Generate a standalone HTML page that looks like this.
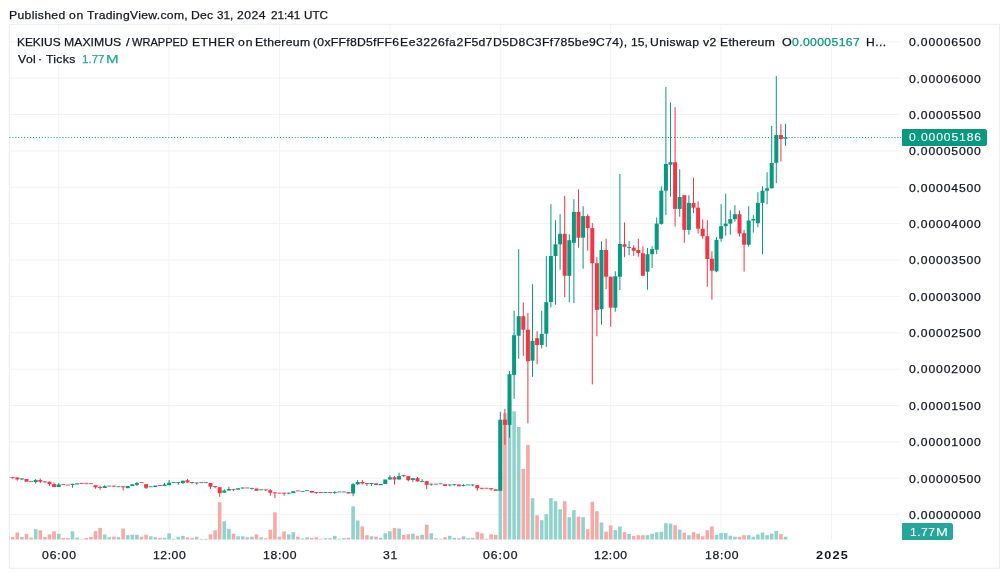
<!DOCTYPE html>
<html><head><meta charset="utf-8"><title>chart</title>
<style>
html,body{margin:0;padding:0;background:#fff;}
body{width:1003px;height:574px;position:relative;overflow:hidden;font-family:"Liberation Sans",sans-serif;color:#131722;}
#txt{position:absolute;left:0;top:0;width:1003px;height:574px;will-change:transform;}
.w{position:absolute;white-space:nowrap;font-size:11.6px;line-height:16px;height:16px;transform-origin:0 0;-webkit-text-stroke:0.25px currentColor;}
.box{position:absolute;border-radius:1px 2.5px 2.5px 1px;}
</style></head><body>
<svg width="1003" height="574" viewBox="0 0 1003 574" style="position:absolute;left:0;top:0" shape-rendering="auto">
<defs><clipPath id="cp"><rect x="9.5" y="24.5" width="891" height="515.2"/></clipPath></defs>
<rect x="10" y="41.30" width="890.5" height="1" fill="#f3f3f4"/>
<rect x="10" y="77.67" width="890.5" height="1" fill="#f3f3f4"/>
<rect x="10" y="114.04" width="890.5" height="1" fill="#f3f3f4"/>
<rect x="10" y="150.41" width="890.5" height="1" fill="#f3f3f4"/>
<rect x="10" y="186.78" width="890.5" height="1" fill="#f3f3f4"/>
<rect x="10" y="223.15" width="890.5" height="1" fill="#f3f3f4"/>
<rect x="10" y="259.52" width="890.5" height="1" fill="#f3f3f4"/>
<rect x="10" y="295.89" width="890.5" height="1" fill="#f3f3f4"/>
<rect x="10" y="332.26" width="890.5" height="1" fill="#f3f3f4"/>
<rect x="10" y="368.63" width="890.5" height="1" fill="#f3f3f4"/>
<rect x="10" y="405.00" width="890.5" height="1" fill="#f3f3f4"/>
<rect x="10" y="441.37" width="890.5" height="1" fill="#f3f3f4"/>
<rect x="10" y="477.74" width="890.5" height="1" fill="#f3f3f4"/>
<rect x="10" y="514.11" width="890.5" height="1" fill="#f3f3f4"/>
<rect x="58.20" y="25" width="1" height="514.70" fill="#f3f3f4"/>
<rect x="168.60" y="25" width="1" height="514.70" fill="#f3f3f4"/>
<rect x="279.00" y="25" width="1" height="514.70" fill="#f3f3f4"/>
<rect x="389.40" y="25" width="1" height="514.70" fill="#f3f3f4"/>
<rect x="499.80" y="25" width="1" height="514.70" fill="#f3f3f4"/>
<rect x="610.20" y="25" width="1" height="514.70" fill="#f3f3f4"/>
<rect x="720.60" y="25" width="1" height="514.70" fill="#f3f3f4"/>
<rect x="831.00" y="25" width="1" height="514.70" fill="#f3f3f4"/>
<rect x="9.4" y="24.3" width="990.2" height="544" fill="none" stroke="#ebedf3" stroke-width="1"/>
<g clip-path="url(#cp)">
<rect x="6.30" y="535.90" width="3.6" height="3.80" fill="#92d2cc"/>
<rect x="10.90" y="536.90" width="3.6" height="2.80" fill="#f7a9a7"/>
<rect x="15.50" y="532.50" width="3.6" height="7.20" fill="#f7a9a7"/>
<rect x="20.10" y="536.90" width="3.6" height="2.80" fill="#92d2cc"/>
<rect x="24.70" y="533.80" width="3.6" height="5.90" fill="#f7a9a7"/>
<rect x="29.30" y="537.60" width="3.6" height="2.10" fill="#f7a9a7"/>
<rect x="33.90" y="529.20" width="3.6" height="10.50" fill="#92d2cc"/>
<rect x="38.50" y="530.40" width="3.6" height="9.30" fill="#f7a9a7"/>
<rect x="43.10" y="536.90" width="3.6" height="2.80" fill="#f7a9a7"/>
<rect x="47.70" y="534.50" width="3.6" height="5.20" fill="#f7a9a7"/>
<rect x="52.30" y="531.30" width="3.6" height="8.40" fill="#f7a9a7"/>
<rect x="56.90" y="533.80" width="3.6" height="5.90" fill="#92d2cc"/>
<rect x="61.50" y="538.00" width="3.6" height="1.70" fill="#f7a9a7"/>
<rect x="66.10" y="538.00" width="3.6" height="1.70" fill="#f7a9a7"/>
<rect x="70.70" y="531.30" width="3.6" height="8.40" fill="#92d2cc"/>
<rect x="75.30" y="537.60" width="3.6" height="2.10" fill="#92d2cc"/>
<rect x="79.90" y="539.00" width="3.6" height="0.70" fill="#f7a9a7"/>
<rect x="84.50" y="538.00" width="3.6" height="1.70" fill="#f7a9a7"/>
<rect x="89.10" y="536.90" width="3.6" height="2.80" fill="#f7a9a7"/>
<rect x="93.70" y="531.10" width="3.6" height="8.60" fill="#f7a9a7"/>
<rect x="98.30" y="527.90" width="3.6" height="11.80" fill="#f7a9a7"/>
<rect x="102.90" y="534.50" width="3.6" height="5.20" fill="#92d2cc"/>
<rect x="107.50" y="537.20" width="3.6" height="2.50" fill="#92d2cc"/>
<rect x="112.10" y="536.60" width="3.6" height="3.10" fill="#f7a9a7"/>
<rect x="116.70" y="537.20" width="3.6" height="2.50" fill="#92d2cc"/>
<rect x="121.30" y="528.50" width="3.6" height="11.20" fill="#f7a9a7"/>
<rect x="125.90" y="535.20" width="3.6" height="4.50" fill="#92d2cc"/>
<rect x="130.50" y="534.80" width="3.6" height="4.90" fill="#92d2cc"/>
<rect x="135.10" y="534.80" width="3.6" height="4.90" fill="#92d2cc"/>
<rect x="139.70" y="536.70" width="3.6" height="3.00" fill="#f7a9a7"/>
<rect x="144.30" y="534.80" width="3.6" height="4.90" fill="#f7a9a7"/>
<rect x="148.90" y="536.30" width="3.6" height="3.40" fill="#92d2cc"/>
<rect x="153.50" y="537.30" width="3.6" height="2.40" fill="#92d2cc"/>
<rect x="158.10" y="537.80" width="3.6" height="1.90" fill="#f7a9a7"/>
<rect x="162.70" y="537.80" width="3.6" height="1.90" fill="#92d2cc"/>
<rect x="167.30" y="533.30" width="3.6" height="6.40" fill="#92d2cc"/>
<rect x="171.90" y="538.80" width="3.6" height="0.90" fill="#92d2cc"/>
<rect x="176.50" y="536.70" width="3.6" height="3.00" fill="#92d2cc"/>
<rect x="181.10" y="535.80" width="3.6" height="3.90" fill="#92d2cc"/>
<rect x="185.70" y="537.30" width="3.6" height="2.40" fill="#f7a9a7"/>
<rect x="190.30" y="537.80" width="3.6" height="1.90" fill="#f7a9a7"/>
<rect x="194.90" y="536.70" width="3.6" height="3.00" fill="#92d2cc"/>
<rect x="199.50" y="538.80" width="3.6" height="0.90" fill="#f7a9a7"/>
<rect x="204.10" y="538.80" width="3.6" height="0.90" fill="#92d2cc"/>
<rect x="208.70" y="534.30" width="3.6" height="5.40" fill="#f7a9a7"/>
<rect x="213.30" y="530.30" width="3.6" height="9.40" fill="#f7a9a7"/>
<rect x="217.90" y="502.20" width="3.6" height="37.50" fill="#f7a9a7"/>
<rect x="222.50" y="521.30" width="3.6" height="18.40" fill="#92d2cc"/>
<rect x="227.10" y="528.80" width="3.6" height="10.90" fill="#92d2cc"/>
<rect x="231.70" y="533.70" width="3.6" height="6.00" fill="#f7a9a7"/>
<rect x="236.30" y="536.30" width="3.6" height="3.40" fill="#92d2cc"/>
<rect x="240.90" y="536.30" width="3.6" height="3.40" fill="#92d2cc"/>
<rect x="245.50" y="537.30" width="3.6" height="2.40" fill="#f7a9a7"/>
<rect x="250.10" y="536.70" width="3.6" height="3.00" fill="#92d2cc"/>
<rect x="254.70" y="534.30" width="3.6" height="5.40" fill="#f7a9a7"/>
<rect x="259.30" y="537.30" width="3.6" height="2.40" fill="#92d2cc"/>
<rect x="263.90" y="538.20" width="3.6" height="1.50" fill="#f7a9a7"/>
<rect x="268.50" y="529.70" width="3.6" height="10.00" fill="#f7a9a7"/>
<rect x="273.10" y="512.30" width="3.6" height="27.40" fill="#f7a9a7"/>
<rect x="277.70" y="536.70" width="3.6" height="3.00" fill="#f7a9a7"/>
<rect x="282.30" y="531.50" width="3.6" height="8.20" fill="#f7a9a7"/>
<rect x="286.90" y="534.30" width="3.6" height="5.40" fill="#92d2cc"/>
<rect x="291.50" y="532.20" width="3.6" height="7.50" fill="#92d2cc"/>
<rect x="296.10" y="536.70" width="3.6" height="3.00" fill="#f7a9a7"/>
<rect x="300.70" y="538.50" width="3.6" height="1.20" fill="#92d2cc"/>
<rect x="305.30" y="537.30" width="3.6" height="2.40" fill="#92d2cc"/>
<rect x="309.90" y="537.90" width="3.6" height="1.80" fill="#f7a9a7"/>
<rect x="314.50" y="537.30" width="3.6" height="2.40" fill="#f7a9a7"/>
<rect x="319.10" y="538.70" width="3.6" height="1.00" fill="#f7a9a7"/>
<rect x="323.70" y="538.20" width="3.6" height="1.50" fill="#92d2cc"/>
<rect x="328.30" y="538.20" width="3.6" height="1.50" fill="#f7a9a7"/>
<rect x="332.90" y="535.80" width="3.6" height="3.90" fill="#92d2cc"/>
<rect x="337.50" y="538.70" width="3.6" height="1.00" fill="#92d2cc"/>
<rect x="342.10" y="538.20" width="3.6" height="1.50" fill="#92d2cc"/>
<rect x="346.70" y="537.80" width="3.6" height="1.90" fill="#f7a9a7"/>
<rect x="351.30" y="506.30" width="3.6" height="33.40" fill="#92d2cc"/>
<rect x="355.90" y="520.50" width="3.6" height="19.20" fill="#92d2cc"/>
<rect x="360.50" y="526.50" width="3.6" height="13.20" fill="#f7a9a7"/>
<rect x="365.10" y="535.20" width="3.6" height="4.50" fill="#f7a9a7"/>
<rect x="369.70" y="536.30" width="3.6" height="3.40" fill="#92d2cc"/>
<rect x="374.30" y="536.70" width="3.6" height="3.00" fill="#f7a9a7"/>
<rect x="378.90" y="537.80" width="3.6" height="1.90" fill="#92d2cc"/>
<rect x="383.50" y="533.30" width="3.6" height="6.40" fill="#92d2cc"/>
<rect x="388.10" y="531.30" width="3.6" height="8.40" fill="#92d2cc"/>
<rect x="392.70" y="528.00" width="3.6" height="11.70" fill="#f7a9a7"/>
<rect x="397.30" y="528.50" width="3.6" height="11.20" fill="#92d2cc"/>
<rect x="401.90" y="534.80" width="3.6" height="4.90" fill="#f7a9a7"/>
<rect x="406.50" y="534.30" width="3.6" height="5.40" fill="#f7a9a7"/>
<rect x="411.10" y="533.70" width="3.6" height="6.00" fill="#92d2cc"/>
<rect x="415.70" y="535.80" width="3.6" height="3.90" fill="#f7a9a7"/>
<rect x="420.30" y="534.80" width="3.6" height="4.90" fill="#92d2cc"/>
<rect x="424.90" y="524.70" width="3.6" height="15.00" fill="#f7a9a7"/>
<rect x="429.50" y="533.30" width="3.6" height="6.40" fill="#92d2cc"/>
<rect x="434.10" y="538.20" width="3.6" height="1.50" fill="#f7a9a7"/>
<rect x="438.70" y="538.80" width="3.6" height="0.90" fill="#92d2cc"/>
<rect x="443.30" y="537.30" width="3.6" height="2.40" fill="#f7a9a7"/>
<rect x="447.90" y="535.80" width="3.6" height="3.90" fill="#92d2cc"/>
<rect x="452.50" y="537.80" width="3.6" height="1.90" fill="#92d2cc"/>
<rect x="457.10" y="538.20" width="3.6" height="1.50" fill="#f7a9a7"/>
<rect x="461.70" y="536.30" width="3.6" height="3.40" fill="#92d2cc"/>
<rect x="466.30" y="538.20" width="3.6" height="1.50" fill="#92d2cc"/>
<rect x="470.90" y="537.80" width="3.6" height="1.90" fill="#92d2cc"/>
<rect x="475.50" y="531.80" width="3.6" height="7.90" fill="#f7a9a7"/>
<rect x="480.10" y="533.30" width="3.6" height="6.40" fill="#f7a9a7"/>
<rect x="484.70" y="538.80" width="3.6" height="0.90" fill="#f7a9a7"/>
<rect x="489.30" y="534.30" width="3.6" height="5.40" fill="#f7a9a7"/>
<rect x="493.90" y="534.80" width="3.6" height="4.90" fill="#f7a9a7"/>
<rect x="498.50" y="421.70" width="3.6" height="118.00" fill="#92d2cc"/>
<rect x="503.10" y="413.30" width="3.6" height="126.40" fill="#f7a9a7"/>
<rect x="507.70" y="400.00" width="3.6" height="139.70" fill="#92d2cc"/>
<rect x="512.30" y="411.30" width="3.6" height="128.40" fill="#92d2cc"/>
<rect x="516.90" y="427.00" width="3.6" height="112.70" fill="#92d2cc"/>
<rect x="521.50" y="468.90" width="3.6" height="70.80" fill="#f7a9a7"/>
<rect x="526.10" y="445.00" width="3.6" height="94.70" fill="#f7a9a7"/>
<rect x="530.70" y="498.20" width="3.6" height="41.50" fill="#92d2cc"/>
<rect x="535.30" y="515.30" width="3.6" height="24.40" fill="#f7a9a7"/>
<rect x="539.90" y="520.20" width="3.6" height="19.50" fill="#92d2cc"/>
<rect x="544.50" y="514.20" width="3.6" height="25.50" fill="#92d2cc"/>
<rect x="549.10" y="498.20" width="3.6" height="41.50" fill="#92d2cc"/>
<rect x="553.70" y="501.20" width="3.6" height="38.50" fill="#92d2cc"/>
<rect x="558.30" y="509.30" width="3.6" height="30.40" fill="#92d2cc"/>
<rect x="562.90" y="501.20" width="3.6" height="38.50" fill="#f7a9a7"/>
<rect x="567.50" y="517.20" width="3.6" height="22.50" fill="#92d2cc"/>
<rect x="572.10" y="510.20" width="3.6" height="29.50" fill="#92d2cc"/>
<rect x="576.70" y="516.50" width="3.6" height="23.20" fill="#f7a9a7"/>
<rect x="581.30" y="517.20" width="3.6" height="22.50" fill="#92d2cc"/>
<rect x="585.90" y="529.20" width="3.6" height="10.50" fill="#f7a9a7"/>
<rect x="590.50" y="501.80" width="3.6" height="37.90" fill="#f7a9a7"/>
<rect x="595.10" y="511.20" width="3.6" height="28.50" fill="#f7a9a7"/>
<rect x="599.70" y="522.50" width="3.6" height="17.20" fill="#92d2cc"/>
<rect x="604.30" y="531.70" width="3.6" height="8.00" fill="#f7a9a7"/>
<rect x="608.90" y="525.40" width="3.6" height="14.30" fill="#f7a9a7"/>
<rect x="613.50" y="530.20" width="3.6" height="9.50" fill="#92d2cc"/>
<rect x="618.10" y="526.50" width="3.6" height="13.20" fill="#92d2cc"/>
<rect x="622.70" y="532.20" width="3.6" height="7.50" fill="#f7a9a7"/>
<rect x="627.30" y="534.00" width="3.6" height="5.70" fill="#92d2cc"/>
<rect x="631.90" y="535.90" width="3.6" height="3.80" fill="#f7a9a7"/>
<rect x="636.50" y="535.20" width="3.6" height="4.50" fill="#f7a9a7"/>
<rect x="641.10" y="535.20" width="3.6" height="4.50" fill="#f7a9a7"/>
<rect x="645.70" y="535.20" width="3.6" height="4.50" fill="#92d2cc"/>
<rect x="650.30" y="533.70" width="3.6" height="6.00" fill="#92d2cc"/>
<rect x="654.90" y="532.20" width="3.6" height="7.50" fill="#92d2cc"/>
<rect x="659.50" y="531.80" width="3.6" height="7.90" fill="#92d2cc"/>
<rect x="664.10" y="523.20" width="3.6" height="16.50" fill="#92d2cc"/>
<rect x="668.70" y="523.50" width="3.6" height="16.20" fill="#92d2cc"/>
<rect x="673.30" y="525.20" width="3.6" height="14.50" fill="#f7a9a7"/>
<rect x="677.90" y="529.70" width="3.6" height="10.00" fill="#92d2cc"/>
<rect x="682.50" y="532.70" width="3.6" height="7.00" fill="#f7a9a7"/>
<rect x="687.10" y="535.20" width="3.6" height="4.50" fill="#92d2cc"/>
<rect x="691.70" y="532.20" width="3.6" height="7.50" fill="#f7a9a7"/>
<rect x="696.30" y="533.70" width="3.6" height="6.00" fill="#f7a9a7"/>
<rect x="700.90" y="536.30" width="3.6" height="3.40" fill="#f7a9a7"/>
<rect x="705.50" y="530.30" width="3.6" height="9.40" fill="#f7a9a7"/>
<rect x="710.10" y="526.50" width="3.6" height="13.20" fill="#f7a9a7"/>
<rect x="714.70" y="534.80" width="3.6" height="4.90" fill="#92d2cc"/>
<rect x="719.30" y="533.00" width="3.6" height="6.70" fill="#92d2cc"/>
<rect x="723.90" y="533.00" width="3.6" height="6.70" fill="#92d2cc"/>
<rect x="728.50" y="535.70" width="3.6" height="4.00" fill="#92d2cc"/>
<rect x="733.10" y="536.70" width="3.6" height="3.00" fill="#92d2cc"/>
<rect x="737.70" y="536.70" width="3.6" height="3.00" fill="#f7a9a7"/>
<rect x="742.30" y="535.20" width="3.6" height="4.50" fill="#f7a9a7"/>
<rect x="746.90" y="535.20" width="3.6" height="4.50" fill="#92d2cc"/>
<rect x="751.50" y="536.70" width="3.6" height="3.00" fill="#92d2cc"/>
<rect x="756.10" y="534.50" width="3.6" height="5.20" fill="#92d2cc"/>
<rect x="760.70" y="532.50" width="3.6" height="7.20" fill="#92d2cc"/>
<rect x="765.30" y="535.20" width="3.6" height="4.50" fill="#92d2cc"/>
<rect x="769.90" y="533.70" width="3.6" height="6.00" fill="#92d2cc"/>
<rect x="774.50" y="531.00" width="3.6" height="8.70" fill="#92d2cc"/>
<rect x="779.10" y="534.20" width="3.6" height="5.50" fill="#f7a9a7"/>
<rect x="783.70" y="536.70" width="3.6" height="3.00" fill="#92d2cc"/>
<rect x="6.10" y="477.20" width="4.0" height="0.90" fill="#089981"/>
<rect x="12.20" y="476.70" width="1" height="2.00" fill="#f23645"/>
<rect x="10.70" y="477.20" width="4.0" height="0.90" fill="#f23645"/>
<rect x="16.80" y="477.50" width="1" height="3.20" fill="#f23645"/>
<rect x="15.30" y="477.50" width="4.0" height="1.90" fill="#f23645"/>
<rect x="21.40" y="478.40" width="1" height="1.60" fill="#089981"/>
<rect x="19.90" y="478.40" width="4.0" height="1.00" fill="#089981"/>
<rect x="24.50" y="479.00" width="4.0" height="2.70" fill="#f23645"/>
<rect x="29.10" y="481.20" width="4.0" height="0.90" fill="#f23645"/>
<rect x="35.20" y="479.00" width="1" height="4.50" fill="#089981"/>
<rect x="33.70" y="480.00" width="4.0" height="2.00" fill="#089981"/>
<rect x="39.80" y="478.50" width="1" height="4.60" fill="#f23645"/>
<rect x="38.30" y="480.00" width="4.0" height="1.70" fill="#f23645"/>
<rect x="44.40" y="481.40" width="1" height="1.30" fill="#f23645"/>
<rect x="42.90" y="481.40" width="4.0" height="0.90" fill="#f23645"/>
<rect x="49.00" y="481.70" width="1" height="4.20" fill="#f23645"/>
<rect x="47.50" y="481.70" width="4.0" height="2.40" fill="#f23645"/>
<rect x="53.60" y="482.40" width="1" height="4.60" fill="#f23645"/>
<rect x="52.10" y="484.10" width="4.0" height="2.90" fill="#f23645"/>
<rect x="58.20" y="483.10" width="1" height="3.90" fill="#089981"/>
<rect x="56.70" y="484.50" width="4.0" height="2.50" fill="#089981"/>
<rect x="61.30" y="484.20" width="4.0" height="0.90" fill="#f23645"/>
<rect x="65.90" y="484.60" width="4.0" height="0.90" fill="#f23645"/>
<rect x="72.00" y="483.80" width="1" height="3.90" fill="#089981"/>
<rect x="70.50" y="483.80" width="4.0" height="1.20" fill="#089981"/>
<rect x="75.10" y="483.30" width="4.0" height="1.20" fill="#089981"/>
<rect x="79.70" y="483.00" width="4.0" height="0.90" fill="#f23645"/>
<rect x="84.30" y="483.20" width="4.0" height="0.90" fill="#f23645"/>
<rect x="88.90" y="483.20" width="4.0" height="0.90" fill="#f23645"/>
<rect x="95.00" y="485.20" width="1" height="3.50" fill="#f23645"/>
<rect x="93.50" y="485.20" width="4.0" height="2.10" fill="#f23645"/>
<rect x="99.60" y="485.60" width="1" height="4.20" fill="#f23645"/>
<rect x="98.10" y="487.00" width="4.0" height="0.90" fill="#f23645"/>
<rect x="104.20" y="485.20" width="1" height="2.80" fill="#089981"/>
<rect x="102.70" y="486.20" width="4.0" height="1.80" fill="#089981"/>
<rect x="107.30" y="485.60" width="4.0" height="0.90" fill="#089981"/>
<rect x="113.40" y="485.70" width="1" height="1.30" fill="#f23645"/>
<rect x="111.90" y="485.70" width="4.0" height="0.90" fill="#f23645"/>
<rect x="116.50" y="486.30" width="4.0" height="0.90" fill="#089981"/>
<rect x="122.60" y="486.30" width="1" height="4.20" fill="#f23645"/>
<rect x="121.10" y="486.30" width="4.0" height="1.00" fill="#f23645"/>
<rect x="125.70" y="486.00" width="4.0" height="2.20" fill="#089981"/>
<rect x="130.30" y="484.20" width="4.0" height="1.80" fill="#089981"/>
<rect x="136.40" y="482.00" width="1" height="4.00" fill="#089981"/>
<rect x="134.90" y="483.00" width="4.0" height="1.80" fill="#089981"/>
<rect x="139.50" y="482.20" width="4.0" height="0.90" fill="#f23645"/>
<rect x="145.60" y="484.20" width="1" height="4.80" fill="#f23645"/>
<rect x="144.10" y="484.20" width="4.0" height="3.60" fill="#f23645"/>
<rect x="148.70" y="486.30" width="4.0" height="0.90" fill="#089981"/>
<rect x="153.30" y="485.50" width="4.0" height="1.50" fill="#089981"/>
<rect x="157.90" y="485.10" width="4.0" height="0.90" fill="#f23645"/>
<rect x="164.00" y="483.00" width="1" height="3.00" fill="#089981"/>
<rect x="162.50" y="484.50" width="4.0" height="1.50" fill="#089981"/>
<rect x="168.60" y="480.00" width="1" height="5.20" fill="#089981"/>
<rect x="167.10" y="482.70" width="4.0" height="2.50" fill="#089981"/>
<rect x="171.70" y="482.00" width="4.0" height="0.90" fill="#089981"/>
<rect x="177.80" y="482.00" width="1" height="2.80" fill="#089981"/>
<rect x="176.30" y="482.00" width="4.0" height="0.90" fill="#089981"/>
<rect x="182.40" y="480.70" width="1" height="3.30" fill="#089981"/>
<rect x="180.90" y="480.70" width="4.0" height="2.30" fill="#089981"/>
<rect x="187.00" y="478.90" width="1" height="3.60" fill="#f23645"/>
<rect x="185.50" y="480.30" width="4.0" height="2.20" fill="#f23645"/>
<rect x="191.60" y="482.00" width="1" height="1.70" fill="#f23645"/>
<rect x="190.10" y="482.00" width="4.0" height="0.90" fill="#f23645"/>
<rect x="196.20" y="482.50" width="1" height="2.00" fill="#089981"/>
<rect x="194.70" y="482.50" width="4.0" height="0.90" fill="#089981"/>
<rect x="199.30" y="482.20" width="4.0" height="0.90" fill="#f23645"/>
<rect x="203.90" y="482.20" width="4.0" height="0.90" fill="#089981"/>
<rect x="210.00" y="483.00" width="1" height="6.00" fill="#f23645"/>
<rect x="208.50" y="483.00" width="4.0" height="3.70" fill="#f23645"/>
<rect x="214.60" y="486.00" width="1" height="2.20" fill="#f23645"/>
<rect x="213.10" y="486.00" width="4.0" height="0.90" fill="#f23645"/>
<rect x="219.20" y="487.20" width="1" height="9.60" fill="#f23645"/>
<rect x="217.70" y="487.20" width="4.0" height="6.00" fill="#f23645"/>
<rect x="223.80" y="489.40" width="1" height="3.30" fill="#089981"/>
<rect x="222.30" y="490.50" width="4.0" height="2.20" fill="#089981"/>
<rect x="228.40" y="486.70" width="1" height="3.80" fill="#089981"/>
<rect x="226.90" y="489.00" width="4.0" height="1.50" fill="#089981"/>
<rect x="233.00" y="489.20" width="1" height="1.70" fill="#f23645"/>
<rect x="231.50" y="489.20" width="4.0" height="0.90" fill="#f23645"/>
<rect x="236.10" y="488.20" width="4.0" height="1.50" fill="#089981"/>
<rect x="242.20" y="487.50" width="1" height="1.50" fill="#089981"/>
<rect x="240.70" y="487.50" width="4.0" height="0.90" fill="#089981"/>
<rect x="245.30" y="487.50" width="4.0" height="0.90" fill="#f23645"/>
<rect x="251.40" y="487.90" width="1" height="1.80" fill="#089981"/>
<rect x="249.90" y="487.90" width="4.0" height="0.90" fill="#089981"/>
<rect x="254.50" y="488.50" width="4.0" height="2.30" fill="#f23645"/>
<rect x="259.10" y="489.40" width="4.0" height="0.90" fill="#089981"/>
<rect x="265.20" y="489.40" width="1" height="1.50" fill="#f23645"/>
<rect x="263.70" y="489.40" width="4.0" height="0.90" fill="#f23645"/>
<rect x="269.80" y="489.00" width="1" height="6.70" fill="#f23645"/>
<rect x="268.30" y="490.20" width="4.0" height="2.50" fill="#f23645"/>
<rect x="274.40" y="492.40" width="1" height="5.60" fill="#f23645"/>
<rect x="272.90" y="492.40" width="4.0" height="0.90" fill="#f23645"/>
<rect x="277.50" y="492.70" width="4.0" height="0.90" fill="#f23645"/>
<rect x="283.60" y="492.70" width="1" height="3.00" fill="#f23645"/>
<rect x="282.10" y="492.70" width="4.0" height="0.90" fill="#f23645"/>
<rect x="288.20" y="492.70" width="1" height="1.50" fill="#089981"/>
<rect x="286.70" y="492.70" width="4.0" height="0.90" fill="#089981"/>
<rect x="291.30" y="491.20" width="4.0" height="2.00" fill="#089981"/>
<rect x="295.90" y="490.50" width="4.0" height="0.90" fill="#f23645"/>
<rect x="300.50" y="490.90" width="4.0" height="0.90" fill="#089981"/>
<rect x="305.10" y="490.20" width="4.0" height="0.90" fill="#089981"/>
<rect x="309.70" y="490.90" width="4.0" height="1.80" fill="#f23645"/>
<rect x="315.80" y="492.00" width="1" height="1.80" fill="#f23645"/>
<rect x="314.30" y="492.00" width="4.0" height="0.90" fill="#f23645"/>
<rect x="318.90" y="492.00" width="4.0" height="0.90" fill="#f23645"/>
<rect x="323.50" y="492.00" width="4.0" height="0.90" fill="#089981"/>
<rect x="328.10" y="492.00" width="4.0" height="0.90" fill="#f23645"/>
<rect x="334.20" y="491.20" width="1" height="2.70" fill="#089981"/>
<rect x="332.70" y="492.00" width="4.0" height="0.90" fill="#089981"/>
<rect x="337.30" y="491.50" width="4.0" height="0.90" fill="#089981"/>
<rect x="341.90" y="491.50" width="4.0" height="0.90" fill="#089981"/>
<rect x="346.50" y="492.00" width="4.0" height="1.50" fill="#f23645"/>
<rect x="352.60" y="483.00" width="1" height="13.20" fill="#089981"/>
<rect x="351.10" y="484.20" width="4.0" height="9.30" fill="#089981"/>
<rect x="357.20" y="480.00" width="1" height="5.20" fill="#089981"/>
<rect x="355.70" y="482.00" width="4.0" height="2.20" fill="#089981"/>
<rect x="361.80" y="480.00" width="1" height="4.50" fill="#f23645"/>
<rect x="360.30" y="482.00" width="4.0" height="1.40" fill="#f23645"/>
<rect x="366.40" y="483.00" width="1" height="3.00" fill="#f23645"/>
<rect x="364.90" y="483.00" width="4.0" height="1.00" fill="#f23645"/>
<rect x="371.00" y="483.00" width="1" height="3.00" fill="#089981"/>
<rect x="369.50" y="483.00" width="4.0" height="1.00" fill="#089981"/>
<rect x="374.10" y="483.40" width="4.0" height="1.60" fill="#f23645"/>
<rect x="378.70" y="484.00" width="4.0" height="1.20" fill="#089981"/>
<rect x="383.30" y="479.50" width="4.0" height="4.50" fill="#089981"/>
<rect x="389.40" y="475.20" width="1" height="4.30" fill="#089981"/>
<rect x="387.90" y="477.30" width="4.0" height="2.20" fill="#089981"/>
<rect x="394.00" y="476.20" width="1" height="8.30" fill="#f23645"/>
<rect x="392.50" y="477.30" width="4.0" height="2.20" fill="#f23645"/>
<rect x="398.60" y="472.80" width="1" height="6.70" fill="#089981"/>
<rect x="397.10" y="476.20" width="4.0" height="3.30" fill="#089981"/>
<rect x="403.20" y="475.20" width="1" height="1.80" fill="#f23645"/>
<rect x="401.70" y="475.20" width="4.0" height="1.00" fill="#f23645"/>
<rect x="407.80" y="476.20" width="1" height="5.20" fill="#f23645"/>
<rect x="406.30" y="476.20" width="4.0" height="4.00" fill="#f23645"/>
<rect x="412.40" y="478.20" width="1" height="3.60" fill="#089981"/>
<rect x="410.90" y="478.20" width="4.0" height="1.80" fill="#089981"/>
<rect x="417.00" y="477.00" width="1" height="4.50" fill="#f23645"/>
<rect x="415.50" y="478.20" width="4.0" height="3.30" fill="#f23645"/>
<rect x="421.60" y="479.20" width="1" height="2.80" fill="#089981"/>
<rect x="420.10" y="481.20" width="4.0" height="0.90" fill="#089981"/>
<rect x="426.20" y="481.20" width="1" height="7.80" fill="#f23645"/>
<rect x="424.70" y="481.20" width="4.0" height="3.60" fill="#f23645"/>
<rect x="430.80" y="483.70" width="1" height="2.00" fill="#089981"/>
<rect x="429.30" y="483.70" width="4.0" height="0.90" fill="#089981"/>
<rect x="433.90" y="483.70" width="4.0" height="0.90" fill="#f23645"/>
<rect x="438.50" y="483.40" width="4.0" height="0.90" fill="#089981"/>
<rect x="443.10" y="484.20" width="4.0" height="1.80" fill="#f23645"/>
<rect x="449.20" y="484.50" width="1" height="1.80" fill="#089981"/>
<rect x="447.70" y="484.50" width="4.0" height="0.90" fill="#089981"/>
<rect x="453.80" y="484.20" width="1" height="1.50" fill="#089981"/>
<rect x="452.30" y="484.20" width="4.0" height="0.90" fill="#089981"/>
<rect x="456.90" y="484.50" width="4.0" height="1.80" fill="#f23645"/>
<rect x="463.00" y="484.20" width="1" height="2.20" fill="#089981"/>
<rect x="461.50" y="485.00" width="4.0" height="0.90" fill="#089981"/>
<rect x="466.10" y="484.50" width="4.0" height="0.90" fill="#089981"/>
<rect x="472.20" y="484.50" width="1" height="1.80" fill="#089981"/>
<rect x="470.70" y="484.50" width="4.0" height="0.90" fill="#089981"/>
<rect x="476.80" y="485.20" width="1" height="5.60" fill="#f23645"/>
<rect x="475.30" y="485.20" width="4.0" height="3.00" fill="#f23645"/>
<rect x="481.40" y="487.80" width="1" height="1.60" fill="#f23645"/>
<rect x="479.90" y="487.80" width="4.0" height="0.90" fill="#f23645"/>
<rect x="484.50" y="487.80" width="4.0" height="0.90" fill="#f23645"/>
<rect x="490.60" y="488.20" width="1" height="2.30" fill="#f23645"/>
<rect x="489.10" y="488.20" width="4.0" height="1.10" fill="#f23645"/>
<rect x="493.70" y="489.30" width="4.0" height="1.60" fill="#f23645"/>
<rect x="499.80" y="411.90" width="1" height="78.90" fill="#089981"/>
<rect x="498.30" y="419.70" width="4.0" height="71.10" fill="#089981"/>
<rect x="504.40" y="409.00" width="1" height="35.80" fill="#f23645"/>
<rect x="502.90" y="419.70" width="4.0" height="5.20" fill="#f23645"/>
<rect x="509.00" y="370.90" width="1" height="66.80" fill="#089981"/>
<rect x="507.50" y="374.20" width="4.0" height="50.70" fill="#089981"/>
<rect x="513.60" y="310.70" width="1" height="88.10" fill="#089981"/>
<rect x="512.10" y="335.20" width="4.0" height="39.70" fill="#089981"/>
<rect x="518.20" y="249.20" width="1" height="109.60" fill="#089981"/>
<rect x="516.70" y="316.20" width="4.0" height="19.50" fill="#089981"/>
<rect x="522.80" y="302.40" width="1" height="53.40" fill="#f23645"/>
<rect x="521.30" y="316.20" width="4.0" height="13.50" fill="#f23645"/>
<rect x="527.40" y="312.90" width="1" height="110.50" fill="#f23645"/>
<rect x="525.90" y="329.70" width="4.0" height="31.50" fill="#f23645"/>
<rect x="532.00" y="284.20" width="1" height="92.70" fill="#089981"/>
<rect x="530.50" y="340.80" width="4.0" height="19.90" fill="#089981"/>
<rect x="536.60" y="331.20" width="1" height="33.00" fill="#f23645"/>
<rect x="535.10" y="338.20" width="4.0" height="6.80" fill="#f23645"/>
<rect x="541.20" y="310.70" width="1" height="37.70" fill="#089981"/>
<rect x="539.70" y="334.00" width="4.0" height="11.00" fill="#089981"/>
<rect x="545.80" y="256.00" width="1" height="90.90" fill="#089981"/>
<rect x="544.30" y="302.10" width="4.0" height="31.60" fill="#089981"/>
<rect x="550.40" y="204.10" width="1" height="103.30" fill="#089981"/>
<rect x="548.90" y="256.00" width="4.0" height="46.10" fill="#089981"/>
<rect x="555.00" y="220.20" width="1" height="84.50" fill="#089981"/>
<rect x="553.50" y="244.30" width="4.0" height="11.70" fill="#089981"/>
<rect x="559.60" y="214.20" width="1" height="55.60" fill="#089981"/>
<rect x="558.10" y="233.80" width="4.0" height="10.50" fill="#089981"/>
<rect x="564.20" y="195.80" width="1" height="101.40" fill="#f23645"/>
<rect x="562.70" y="233.80" width="4.0" height="42.00" fill="#f23645"/>
<rect x="568.80" y="234.20" width="1" height="68.20" fill="#089981"/>
<rect x="567.30" y="240.20" width="4.0" height="35.60" fill="#089981"/>
<rect x="573.40" y="199.20" width="1" height="104.00" fill="#089981"/>
<rect x="571.90" y="211.90" width="4.0" height="30.90" fill="#089981"/>
<rect x="578.00" y="189.50" width="1" height="58.20" fill="#f23645"/>
<rect x="576.50" y="211.90" width="4.0" height="25.80" fill="#f23645"/>
<rect x="582.60" y="206.20" width="1" height="62.50" fill="#089981"/>
<rect x="581.10" y="216.10" width="4.0" height="21.60" fill="#089981"/>
<rect x="587.20" y="214.20" width="1" height="36.50" fill="#f23645"/>
<rect x="585.70" y="216.10" width="4.0" height="12.00" fill="#f23645"/>
<rect x="591.80" y="223.20" width="1" height="161.20" fill="#f23645"/>
<rect x="590.30" y="228.10" width="4.0" height="35.10" fill="#f23645"/>
<rect x="596.40" y="257.20" width="1" height="79.10" fill="#f23645"/>
<rect x="594.90" y="263.20" width="4.0" height="46.70" fill="#f23645"/>
<rect x="601.00" y="241.30" width="1" height="83.40" fill="#089981"/>
<rect x="599.50" y="250.00" width="4.0" height="59.20" fill="#089981"/>
<rect x="605.60" y="238.70" width="1" height="50.30" fill="#f23645"/>
<rect x="604.10" y="250.00" width="4.0" height="26.70" fill="#f23645"/>
<rect x="610.20" y="276.70" width="1" height="50.00" fill="#f23645"/>
<rect x="608.70" y="276.70" width="4.0" height="31.00" fill="#f23645"/>
<rect x="614.80" y="271.30" width="1" height="40.40" fill="#089981"/>
<rect x="613.30" y="276.20" width="4.0" height="31.50" fill="#089981"/>
<rect x="619.40" y="174.00" width="1" height="116.00" fill="#089981"/>
<rect x="617.90" y="244.00" width="4.0" height="32.70" fill="#089981"/>
<rect x="624.00" y="222.40" width="1" height="34.80" fill="#f23645"/>
<rect x="622.50" y="244.30" width="4.0" height="2.40" fill="#f23645"/>
<rect x="628.60" y="241.00" width="1" height="14.20" fill="#089981"/>
<rect x="627.10" y="247.00" width="4.0" height="0.90" fill="#089981"/>
<rect x="633.20" y="245.20" width="1" height="10.50" fill="#f23645"/>
<rect x="631.70" y="247.70" width="4.0" height="3.00" fill="#f23645"/>
<rect x="637.80" y="238.70" width="1" height="18.00" fill="#f23645"/>
<rect x="636.30" y="250.00" width="4.0" height="3.00" fill="#f23645"/>
<rect x="642.40" y="246.20" width="1" height="29.60" fill="#f23645"/>
<rect x="640.90" y="253.30" width="4.0" height="22.50" fill="#f23645"/>
<rect x="647.00" y="248.00" width="1" height="41.70" fill="#089981"/>
<rect x="645.50" y="254.20" width="4.0" height="17.50" fill="#089981"/>
<rect x="651.60" y="246.20" width="1" height="21.80" fill="#089981"/>
<rect x="650.10" y="249.20" width="4.0" height="5.00" fill="#089981"/>
<rect x="656.20" y="217.60" width="1" height="36.60" fill="#089981"/>
<rect x="654.70" y="223.60" width="4.0" height="26.10" fill="#089981"/>
<rect x="660.80" y="186.20" width="1" height="38.50" fill="#089981"/>
<rect x="659.30" y="190.70" width="4.0" height="33.20" fill="#089981"/>
<rect x="665.40" y="87.00" width="1" height="128.20" fill="#089981"/>
<rect x="663.90" y="164.00" width="4.0" height="26.70" fill="#089981"/>
<rect x="670.00" y="102.40" width="1" height="94.30" fill="#089981"/>
<rect x="668.50" y="162.20" width="4.0" height="2.50" fill="#089981"/>
<rect x="674.60" y="107.20" width="1" height="119.30" fill="#f23645"/>
<rect x="673.10" y="162.20" width="4.0" height="46.70" fill="#f23645"/>
<rect x="679.20" y="169.20" width="1" height="47.50" fill="#089981"/>
<rect x="677.70" y="197.00" width="4.0" height="11.90" fill="#089981"/>
<rect x="683.80" y="195.20" width="1" height="47.60" fill="#f23645"/>
<rect x="682.30" y="195.20" width="4.0" height="34.70" fill="#f23645"/>
<rect x="688.40" y="195.20" width="1" height="39.50" fill="#089981"/>
<rect x="686.90" y="202.90" width="4.0" height="27.00" fill="#089981"/>
<rect x="693.00" y="177.90" width="1" height="35.20" fill="#f23645"/>
<rect x="691.50" y="202.90" width="4.0" height="4.80" fill="#f23645"/>
<rect x="697.60" y="201.40" width="1" height="32.10" fill="#f23645"/>
<rect x="696.10" y="207.70" width="4.0" height="21.00" fill="#f23645"/>
<rect x="702.20" y="219.40" width="1" height="19.30" fill="#f23645"/>
<rect x="700.70" y="228.70" width="4.0" height="7.50" fill="#f23645"/>
<rect x="706.80" y="220.20" width="1" height="66.50" fill="#f23645"/>
<rect x="705.30" y="236.20" width="4.0" height="22.80" fill="#f23645"/>
<rect x="711.40" y="251.20" width="1" height="48.50" fill="#f23645"/>
<rect x="709.90" y="258.70" width="4.0" height="12.00" fill="#f23645"/>
<rect x="716.00" y="237.20" width="1" height="35.00" fill="#089981"/>
<rect x="714.50" y="239.80" width="4.0" height="31.50" fill="#089981"/>
<rect x="720.60" y="204.10" width="1" height="37.60" fill="#089981"/>
<rect x="719.10" y="226.20" width="4.0" height="12.50" fill="#089981"/>
<rect x="725.20" y="193.70" width="1" height="42.00" fill="#089981"/>
<rect x="723.70" y="223.60" width="4.0" height="2.60" fill="#089981"/>
<rect x="729.80" y="210.40" width="1" height="24.30" fill="#089981"/>
<rect x="728.30" y="219.10" width="4.0" height="4.50" fill="#089981"/>
<rect x="734.40" y="205.20" width="1" height="16.50" fill="#089981"/>
<rect x="732.90" y="214.20" width="4.0" height="4.90" fill="#089981"/>
<rect x="739.00" y="210.40" width="1" height="26.10" fill="#f23645"/>
<rect x="737.50" y="214.20" width="4.0" height="19.30" fill="#f23645"/>
<rect x="743.60" y="229.90" width="1" height="41.80" fill="#f23645"/>
<rect x="742.10" y="233.20" width="4.0" height="11.50" fill="#f23645"/>
<rect x="748.20" y="206.20" width="1" height="40.50" fill="#089981"/>
<rect x="746.70" y="220.50" width="4.0" height="24.20" fill="#089981"/>
<rect x="752.80" y="215.20" width="1" height="17.50" fill="#089981"/>
<rect x="751.30" y="219.00" width="4.0" height="1.50" fill="#089981"/>
<rect x="757.40" y="192.20" width="1" height="35.00" fill="#089981"/>
<rect x="755.90" y="202.90" width="4.0" height="20.30" fill="#089981"/>
<rect x="762.00" y="186.20" width="1" height="68.00" fill="#089981"/>
<rect x="760.50" y="190.70" width="4.0" height="12.20" fill="#089981"/>
<rect x="766.60" y="172.20" width="1" height="32.20" fill="#089981"/>
<rect x="765.10" y="188.30" width="4.0" height="2.40" fill="#089981"/>
<rect x="771.20" y="125.90" width="1" height="62.40" fill="#089981"/>
<rect x="769.70" y="163.00" width="4.0" height="25.30" fill="#089981"/>
<rect x="775.80" y="76.00" width="1" height="107.20" fill="#089981"/>
<rect x="774.30" y="135.00" width="4.0" height="27.80" fill="#089981"/>
<rect x="780.40" y="124.10" width="1" height="37.40" fill="#f23645"/>
<rect x="778.90" y="135.00" width="4.0" height="4.00" fill="#f23645"/>
<rect x="785.00" y="123.70" width="1" height="22.00" fill="#089981"/>
<rect x="783.50" y="137.40" width="4.0" height="1.30" fill="#089981"/>
</g>
<line x1="9.5" y1="137.5" x2="901" y2="137.5" stroke="#089981" stroke-width="1" stroke-dasharray="0.98 1.96"/>
</svg>
<div class="box" style="left:901.7px;top:128.9px;width:85.3px;height:16.8px;background:#089981;"></div>
<div class="box" style="left:901.5px;top:523.3px;width:51.5px;height:16.6px;background:#26a69a;"></div>
<div id="txt">
<div class="w" style="left:8.68px;top:7px;transform:scaleX(1.0500);letter-spacing:0.328px;">Published</div>
<div class="w" style="left:68.81px;top:7px;transform:scaleX(1.0500);letter-spacing:0.696px;">on</div>
<div class="w" style="left:86.97px;top:7px;transform:scaleX(1.0500);letter-spacing:0.297px;">TradingView.com,</div>
<div class="w" style="left:190.98px;top:7px;transform:scaleX(1.0500);letter-spacing:0.202px;">Dec</div>
<div class="w" style="left:217.42px;top:7px;transform:scaleX(1.0084);">31,</div>
<div class="w" style="left:237.28px;top:7px;transform:scaleX(1.0500);letter-spacing:0.482px;">2024</div>
<div class="w" style="left:270.59px;top:7px;transform:scaleX(1.0133);">21:41</div>
<div class="w" style="left:304.25px;top:7px;transform:scaleX(1.0066);">UTC</div>
<div class="w" style="left:16.70px;top:34px;transform:scaleX(1.0255);">KEKIUS</div>
<div class="w" style="left:63.88px;top:34px;transform:scaleX(1.0500);letter-spacing:0.061px;">MAXIMUS</div>
<div class="w" style="left:125.84px;top:34px;transform:scaleX(1.1143);">/</div>
<div class="w" style="left:132.32px;top:34px;transform:scaleX(0.9542);">WRAPPED</div>
<div class="w" style="left:191.58px;top:34px;transform:scaleX(1.0500);letter-spacing:0.357px;">ETHER</div>
<div class="w" style="left:237.51px;top:34px;transform:scaleX(1.0500);letter-spacing:0.982px;">on</div>
<div class="w" style="left:254.88px;top:34px;transform:scaleX(1.0500);letter-spacing:0.315px;">Ethereum</div>
<div class="w" style="left:313.34px;top:34px;transform:scaleX(1.0500);letter-spacing:0.277px;">(0xFFf8D5fFF6</div>
<div class="w" style="left:400.08px;top:34px;transform:scaleX(1.0500);letter-spacing:0.513px;">Ee3226fa2</div>
<div class="w" style="left:463.88px;top:34px;transform:scaleX(1.0500);letter-spacing:0.165px;">F5d7</div>
<div class="w" style="left:492.78px;top:34px;transform:scaleX(1.0500);letter-spacing:0.365px;">D5D8C3</div>
<div class="w" style="left:542.18px;top:34px;transform:scaleX(1.0500);letter-spacing:0.315px;">Ff785be</div>
<div class="w" style="left:589.21px;top:34px;transform:scaleX(1.0500);letter-spacing:0.290px;">9C74),</div>
<div class="w" style="left:630.52px;top:34px;transform:scaleX(1.0414);">15,</div>
<div class="w" style="left:650.01px;top:34px;transform:scaleX(1.0500);letter-spacing:0.374px;">Uniswap</div>
<div class="w" style="left:703.13px;top:34px;transform:scaleX(1.0500);letter-spacing:0.506px;">v2</div>
<div class="w" style="left:719.68px;top:34px;transform:scaleX(1.0500);letter-spacing:0.274px;">Ethereum</div>
<div class="w" style="left:781.60px;top:34px;transform:scaleX(1.0788);">O</div>
<div class="w" style="left:791.51px;top:34px;transform:scaleX(1.0500);letter-spacing:0.360px;color:#089981;">0.00005167</div>
<div class="w" style="left:866.18px;top:34px;transform:scaleX(1.0500);letter-spacing:0.361px;">H...</div>
<div class="w" style="left:17.73px;top:51px;transform:scaleX(1.0500);letter-spacing:0.426px;">Vol</div>
<div class="w" style="left:38.33px;top:51px;transform:scaleX(1.0182);">·</div>
<div class="w" style="left:45.77px;top:51px;transform:scaleX(1.0500);letter-spacing:0.318px;">Ticks</div>
<div class="w" style="left:82.05px;top:51px;transform:scaleX(0.9965);color:#26a69a;">1.77</div>
<div class="w" style="left:105.56px;top:51px;transform:scaleX(1.3000);color:#26a69a;">M</div>
<div class="w" style="left:909.11px;top:34px;transform:scaleX(1.0500);letter-spacing:0.802px;">0.00006500</div>
<div class="w" style="left:909.11px;top:71px;transform:scaleX(1.0500);letter-spacing:0.802px;">0.00006000</div>
<div class="w" style="left:909.11px;top:107px;transform:scaleX(1.0500);letter-spacing:0.802px;">0.00005500</div>
<div class="w" style="left:909.11px;top:143px;transform:scaleX(1.0500);letter-spacing:0.802px;">0.00005000</div>
<div class="w" style="left:909.11px;top:180px;transform:scaleX(1.0500);letter-spacing:0.802px;">0.00004500</div>
<div class="w" style="left:909.11px;top:216px;transform:scaleX(1.0500);letter-spacing:0.802px;">0.00004000</div>
<div class="w" style="left:909.11px;top:252px;transform:scaleX(1.0500);letter-spacing:0.802px;">0.00003500</div>
<div class="w" style="left:909.11px;top:289px;transform:scaleX(1.0500);letter-spacing:0.802px;">0.00003000</div>
<div class="w" style="left:909.11px;top:325px;transform:scaleX(1.0500);letter-spacing:0.802px;">0.00002500</div>
<div class="w" style="left:909.11px;top:361px;transform:scaleX(1.0500);letter-spacing:0.802px;">0.00002000</div>
<div class="w" style="left:909.11px;top:398px;transform:scaleX(1.0500);letter-spacing:0.802px;">0.00001500</div>
<div class="w" style="left:909.11px;top:434px;transform:scaleX(1.0500);letter-spacing:0.802px;">0.00001000</div>
<div class="w" style="left:909.11px;top:471px;transform:scaleX(1.0500);letter-spacing:0.802px;">0.00000500</div>
<div class="w" style="left:909.11px;top:507px;transform:scaleX(1.0500);letter-spacing:0.802px;">0.00000000</div>
<div class="w" style="left:42.01px;top:547px;transform:scaleX(1.0500);letter-spacing:0.818px;">06:00</div>
<div class="w" style="left:153.21px;top:547px;transform:scaleX(1.0500);letter-spacing:0.531px;">12:00</div>
<div class="w" style="left:263.21px;top:547px;transform:scaleX(1.0500);letter-spacing:0.722px;">18:00</div>
<div class="w" style="left:382.81px;top:547px;transform:scaleX(1.0500);letter-spacing:0.637px;">31</div>
<div class="w" style="left:483.21px;top:547px;transform:scaleX(1.0500);letter-spacing:0.961px;">06:00</div>
<div class="w" style="left:594.41px;top:547px;transform:scaleX(1.0500);letter-spacing:0.626px;">12:00</div>
<div class="w" style="left:704.71px;top:547px;transform:scaleX(1.0500);letter-spacing:0.722px;">18:00</div>
<div class="w" style="left:815.79px;top:547px;transform:scaleX(1.0925);font-weight:bold;letter-spacing:1.1px;-webkit-text-stroke:0;">2025</div>
<div class="w" style="left:909.01px;top:129px;transform:scaleX(1.0500);letter-spacing:0.823px;color:#ffffff;-webkit-text-stroke:0.1px #fff;">0.00005186</div>
<div class="w" style="left:909.51px;top:524px;transform:scaleX(1.0500);letter-spacing:0.399px;color:#ffffff;-webkit-text-stroke:0.1px #fff;">1.77</div>
<div class="w" style="left:936.13px;top:524px;transform:scaleX(1.2250);color:#ffffff;-webkit-text-stroke:0.1px #fff;">M</div>
</div>
</body></html>
